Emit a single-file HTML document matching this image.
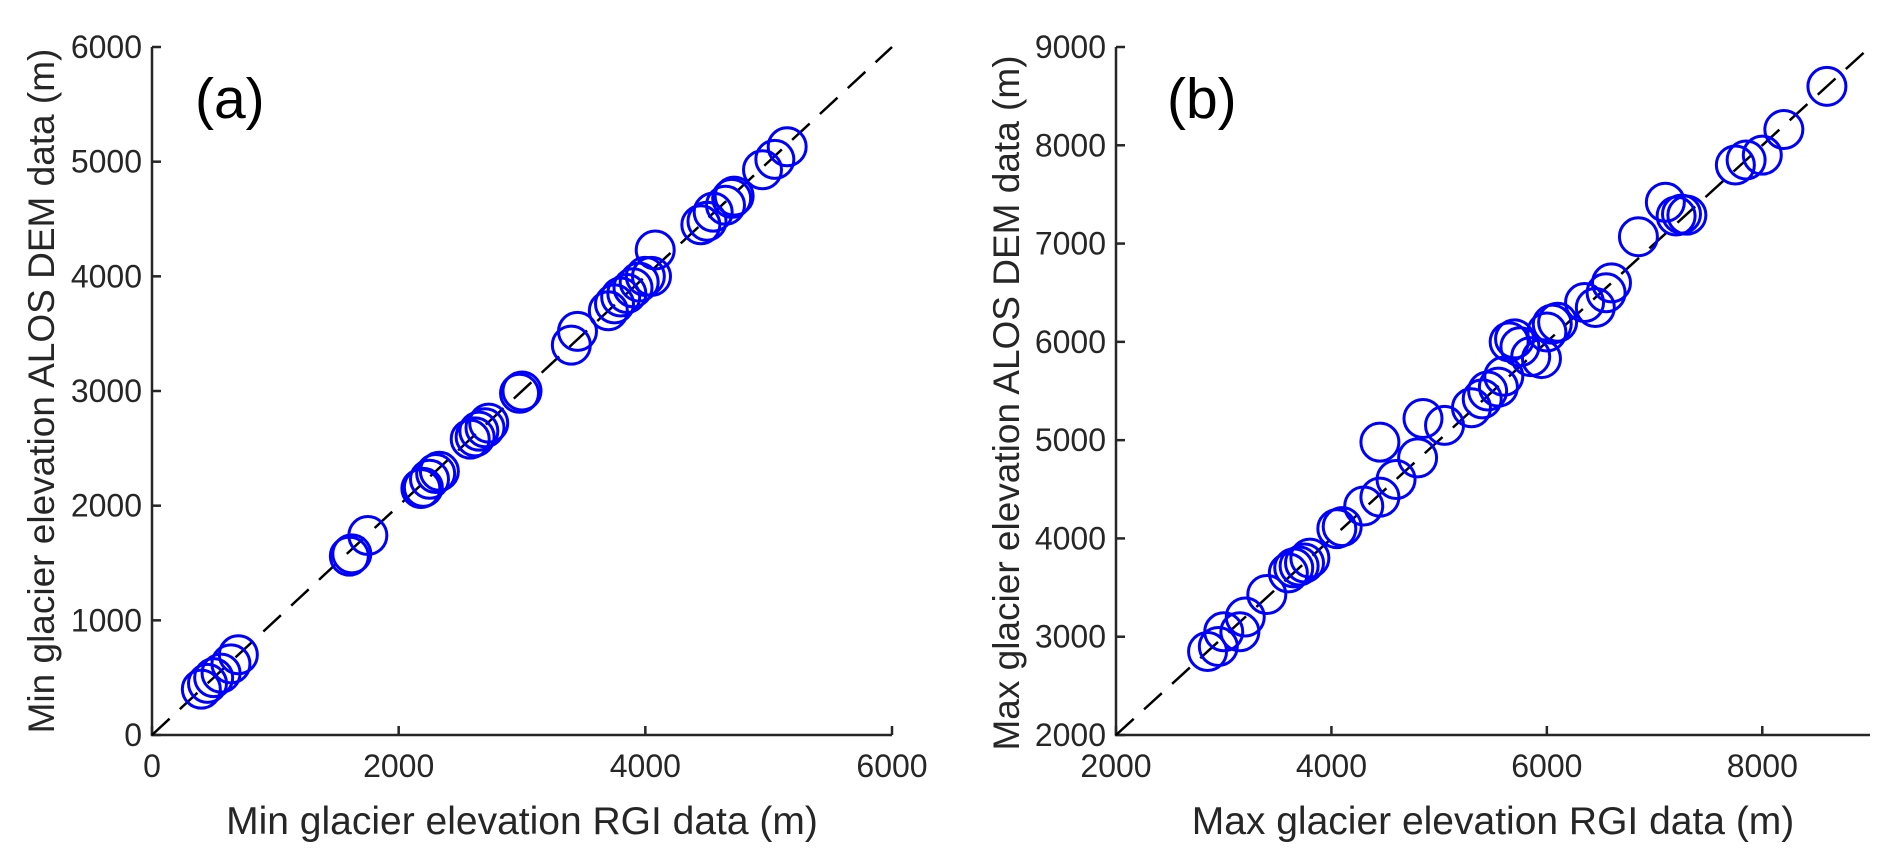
<!DOCTYPE html>
<html><head><meta charset="utf-8"><style>
html,body{margin:0;padding:0;background:#fff;width:1892px;height:860px;overflow:hidden}
svg{display:block}
text{font-family:"Liberation Sans",Arial,sans-serif;fill:#262626}
</style></head><body>
<svg id="fig" width="1892" height="860" viewBox="0 0 1892 860" xmlns="http://www.w3.org/2000/svg"></svg>
<script>
const aX=[400,450,500,560,640,700,1600,1620,1750,2180,2200,2250,2300,2330,2580,2620,2650,2700,2730,2980,3000,3400,3450,3700,3750,3800,3850,3900,3950,4000,4050,4080,4450,4500,4550,4650,4700,4720,4950,5050,5150];
const aY=[400,450,500,540,620,700,1560,1580,1740,2150,2160,2230,2280,2300,2580,2600,2650,2680,2720,2980,3000,3400,3520,3700,3760,3820,3850,3900,3950,4000,4000,4230,4450,4480,4560,4620,4680,4700,4930,5020,5130];
const bX=[2850,2950,3000,3150,3200,3400,3600,3650,3700,3750,3800,4050,4100,4300,4450,4450,4600,4800,4850,5050,5300,5400,5450,5550,5600,5650,5700,5750,5850,5950,6000,6050,6100,6350,6450,6550,6600,6850,7100,7200,7250,7300,7750,7850,8000,8200,8600];
const bY=[2850,2900,3050,3050,3200,3430,3650,3700,3720,3750,3800,4100,4120,4330,4420,4980,4600,4820,5220,5150,5330,5420,5500,5540,5650,6000,6030,5950,5850,5830,6100,6180,6200,6400,6350,6500,6600,7070,7420,7280,7300,7290,7800,7850,7900,8160,8600];
const aTicks=[0,1000,2000,3000,4000,5000,6000];
const aXTicks=[0,2000,4000,6000];
const bTicks=[2000,3000,4000,5000,6000,7000,8000,9000];
const bXTicks=[2000,4000,6000,8000];
const NS="http://www.w3.org/2000/svg";
const svg=document.getElementById('fig');
function mk(tag,attrs,parent){const e=document.createElementNS(NS,tag);for(const k in attrs)e.setAttribute(k,attrs[k]);(parent||svg).appendChild(e);return e;}
function panel(p){
  const g=mk('g',{});
  
  
  const sx=v=>p.x0+(v-p.min)/(p.max-p.min)*(p.x1-p.x0);
  const sy=v=>p.y0-(v-p.min)/(p.max-p.min)*(p.y0-p.y1);
  const ax=mk('path',{d:`M${p.x0},${p.y1}V${p.y0}H${p.x1}`,fill:'none',stroke:'#262626','stroke-width':2.5},g);
  
  
  p.yt.forEach(v=>{
    const t=mk('line',{x1:p.x0,x2:p.x0+9,y1:sy(v),y2:sy(v),stroke:'#262626','stroke-width':2.5},g);
    
    
    const l=mk('text',{x:p.x0-10,y:sy(v)+11,'text-anchor':'end','font-size':32},g);
    l.textContent=v;
    
    
  });
  p.xt.forEach(v=>{
    const t=mk('line',{x1:sx(v),x2:sx(v),y1:p.y0,y2:p.y0-9,stroke:'#262626','stroke-width':2.5},g);
    
    
    const l=mk('text',{x:sx(v),y:p.y0+42,'text-anchor':'middle','font-size':32},g);
    l.textContent=v;
    
    
  });
  const d=mk('line',{x1:sx(p.min),y1:sy(p.min),x2:sx(p.max),y2:sy(p.max),stroke:'#000','stroke-width':2.5,'stroke-dasharray':'24 14'},g);
  
  
  p.xs.forEach((v,i)=>{
    const c=mk('circle',{cx:sx(v),cy:sy(p.ys[i]),r:19,fill:'none',stroke:'#0000ff','stroke-width':3},g);
    
    
  });
  const xl=mk('text',{x:(p.x0+p.x1)/2,y:834,'text-anchor':'middle','font-size':39},g);
  xl.textContent=p.xlab;
  
  
  const yl=mk('text',{x:0,y:0,'text-anchor':'middle','font-size':37,transform:`translate(${p.ylx},${(p.y0+p.y1)/2+p.yoff}) rotate(-90)`},g);
  yl.textContent=p.ylab;
  
  
  const pl=mk('text',{x:p.lx,y:118,'font-size':57,style:'fill:#000'},g);
  pl.textContent=p.label;
  
  
}
panel({name:'panel-a',x0:152,x1:892,y0:735,y1:47,min:0,max:6000,yt:aTicks,xt:aXTicks,xs:aX,ys:aY,yoff:0,
  xlab:'Min glacier elevation RGI data (m)',ylab:'Min glacier elevation ALOS DEM data (m)',ylx:54,lx:195,label:'(a)'});
panel({name:'panel-b',x0:1116,x1:1870,y0:735,y1:47,min:2000,max:9000,yt:bTicks,xt:bXTicks,xs:bX,ys:bY,yoff:12,
  xlab:'Max glacier elevation RGI data (m)',ylab:'Max glacier elevation ALOS DEM data (m)',ylx:1019,lx:1167,label:'(b)'});
</script>
</body></html>
